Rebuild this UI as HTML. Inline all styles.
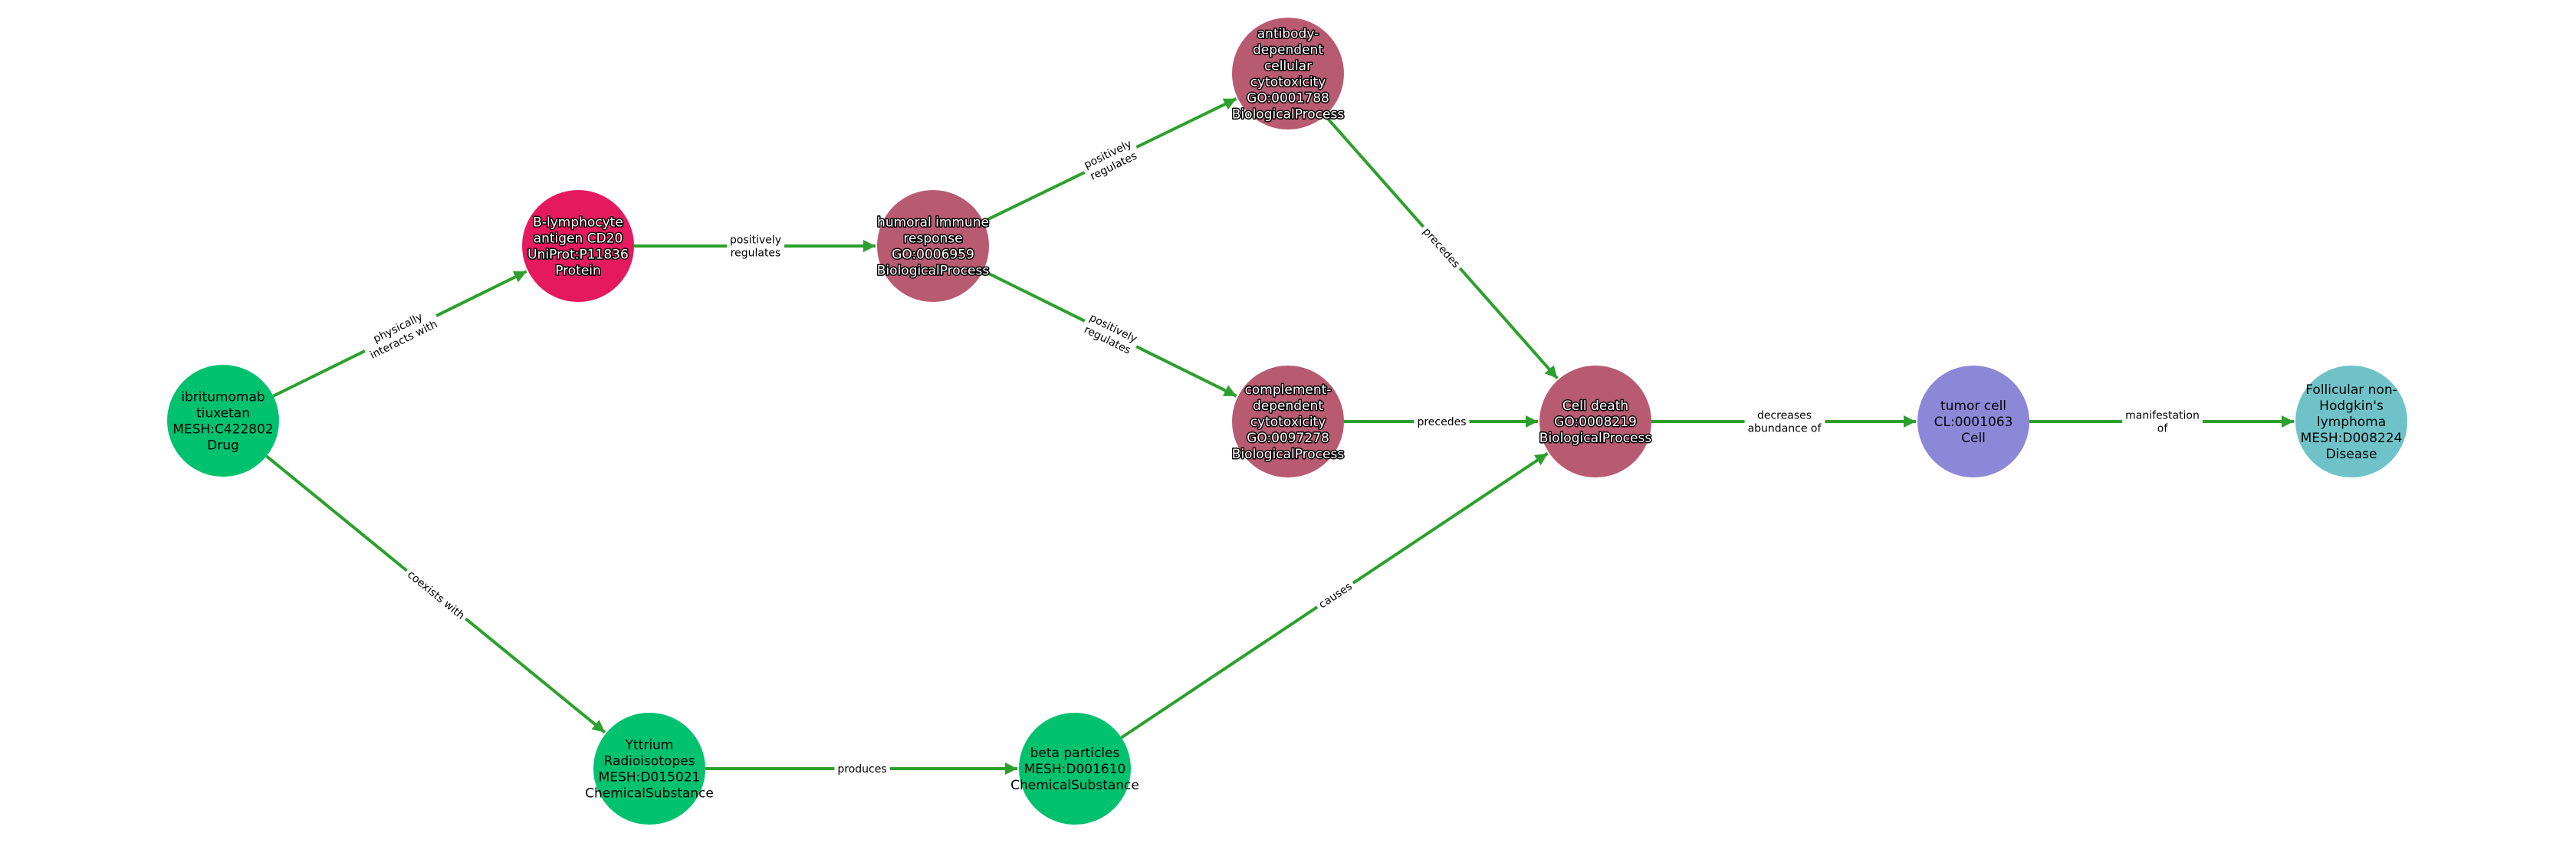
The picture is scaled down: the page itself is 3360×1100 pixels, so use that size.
<!DOCTYPE html>
<html><head><meta charset="utf-8">
<style>
html,body{margin:0;padding:0;background:#fff;}
svg{display:block;}
text{font-family:"DejaVu Sans","Liberation Sans",sans-serif;}
</style></head>
<body>
<svg id="s" width="3360" height="1100" viewBox="0 0 3360 1100" xmlns="http://www.w3.org/2000/svg">
<defs>
<marker id="ah" viewBox="0 0 10 10" refX="10" refY="5" markerWidth="4" markerHeight="4" orient="auto" markerUnits="strokeWidth">
<path d="M0,0 L10,5 L0,10 z" fill="#2ca02c"/>
</marker>
</defs>
<g id="edges"></g><g id="labels"></g><g id="nodes"></g>
</svg>
<script>
var NS="http://www.w3.org/2000/svg";
var R=73;
var nodes={
 ibri:{x:291,y:549,c:"#00c26e",t:["ibritumomab","tiuxetan","MESH:C422802","Drug"],o:false},
 bl:{x:754,y:321,c:"#e5195e",t:["B-lymphocyte","antigen CD20","UniProt:P11836","Protein"],o:true},
 hum:{x:1217,y:321,c:"#b85a72",t:["humoral immune","response","GO:0006959","BiologicalProcess"],o:true},
 ab:{x:1680,y:96,c:"#b85a72",t:["antibody-","dependent","cellular","cytotoxicity","GO:0001788","BiologicalProcess"],o:true},
 cd:{x:1680,y:550,c:"#b85a72",t:["complement-","dependent","cytotoxicity","GO:0097278","BiologicalProcess"],o:true},
 death:{x:2081,y:550,c:"#b85a72",t:["Cell death","GO:0008219","BiologicalProcess"],o:true},
 tum:{x:2574,y:550,c:"#8d87d8",t:["tumor cell","CL:0001063","Cell"],o:false},
 fol:{x:3067,y:550,c:"#6fc3c8",t:["Follicular non-","Hodgkin's","lymphoma","MESH:D008224","Disease"],o:false},
 yt:{x:847,y:1003,c:"#00c26e",t:["Yttrium","Radioisotopes","MESH:D015021","ChemicalSubstance"],o:false},
 beta:{x:1402,y:1003,c:"#00c26e",t:["beta particles","MESH:D001610","ChemicalSubstance"],o:false}
};
var edges=[
 ["ibri","bl",["physically","interacts with"]],
 ["ibri","yt",["coexists with"]],
 ["bl","hum",["positively","regulates"]],
 ["hum","ab",["positively","regulates"]],
 ["hum","cd",["positively","regulates"]],
 ["ab","death",["precedes"]],
 ["cd","death",["precedes"]],
 ["beta","death",["causes"]],
 ["yt","beta",["produces"]],
 ["death","tum",["decreases","abundance of"]],
 ["tum","fol",["manifestation","of"]]
];
function el(n,a,p){var e=document.createElementNS(NS,n);for(var k in a)e.setAttribute(k,a[k]);p.appendChild(e);return e;}
var ge=document.getElementById("edges"),gl=document.getElementById("labels"),gn=document.getElementById("nodes");
edges.forEach(function(E){
 var a=nodes[E[0]],b=nodes[E[1]];
 var dx=b.x-a.x,dy=b.y-a.y,L=Math.sqrt(dx*dx+dy*dy),ux=dx/L,uy=dy/L;
 el("line",{x1:a.x+ux*R,y1:a.y+uy*R,x2:b.x-ux*(R+2),y2:b.y-uy*(R+2),stroke:"#2ca02c","stroke-width":4,"marker-end":"url(#ah)"},ge);
 var mx=(a.x+b.x)/2,my=(a.y+b.y)/2;
 var ang=Math.atan2(dy,dx)*180/Math.PI;if(ang>90)ang-=180;if(ang<-90)ang+=180;
 var g=el("g",{transform:"translate("+mx+","+my+") rotate("+ang+")"},gl);
 var rect=el("rect",{fill:"#fff"},g);
 var n=E[2].length,lh=17;
 var t=el("text",{"text-anchor":"middle","font-size":14,fill:"#000"},g);
 E[2].forEach(function(s,i){var ts=el("tspan",{x:0,y:(i-(n-1)/2)*lh+5},t);ts.textContent=s;});
 var bb=t.getBBox();
 rect.setAttribute("x",bb.x-4);rect.setAttribute("y",bb.y-2);rect.setAttribute("width",bb.width+8);rect.setAttribute("height",bb.height+4);
});
for(var k in nodes){var N=nodes[k];
 el("circle",{cx:N.x,cy:N.y,r:R,fill:N.c},gn);
 var n=N.t.length,lh=21;
 var attrs={"text-anchor":"middle","font-size":17,fill:N.o?"#fff":"#000"};
 if(N.o){attrs.stroke="#000";attrs["stroke-width"]=3;attrs["paint-order"]="stroke";attrs["stroke-linejoin"]="round";}
 var t=el("text",attrs,gn);
 N.t.forEach(function(s,i){var ts=el("tspan",{x:N.x,y:N.y+(i-(n-1)/2)*lh+6},t);ts.textContent=s;});
}
</script>
</body></html>
